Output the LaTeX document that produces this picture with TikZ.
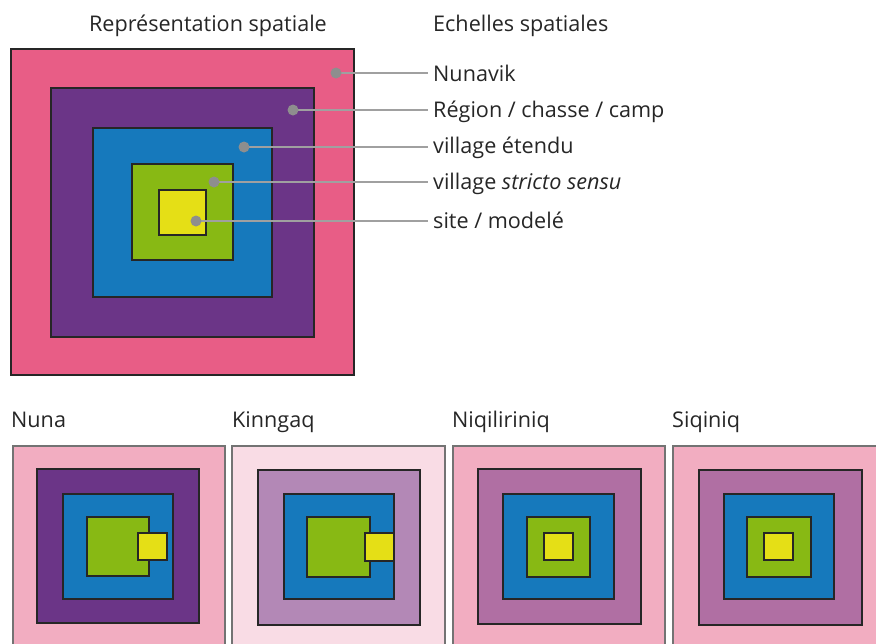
\documentclass[tikz,border=0pt]{standalone}
\usepackage{fontspec}
\setmainfont{Open Sans}
\usetikzlibrary{calc}
\definecolor{cpink}{HTML}{E85D86}
\definecolor{cpurple}{HTML}{6B3587}
\definecolor{cblue}{HTML}{1679BC}
\definecolor{cgreen}{HTML}{88B914}
\definecolor{cyellow}{HTML}{E5DF16}
\definecolor{lpink}{HTML}{F2ADC1}
\definecolor{vlpink}{HTML}{F9DCE5}
\definecolor{lpurple}{HTML}{B388B6}
\definecolor{mauve}{HTML}{B06FA3}
\definecolor{dotgray}{HTML}{8E8E8E}
\definecolor{linegray}{HTML}{A0A0A0}
\tikzset{
  sq/.style={draw=black!85, line width=1.4pt},
  outersq/.style={draw=black!55, line width=1.6pt},
  txt/.style={font=\fontsize{21.6}{24}\selectfont, text=black!85, inner sep=0pt},
  dotmark/.style={circle, fill=dotgray, minimum size=11pt, inner sep=0pt},
  leader/.style={draw=linegray, line width=1.4pt},
}
\begin{document}
\begin{tikzpicture}[x=1pt,y=-1pt]
\useasboundingbox (0,0) rectangle (876,643);
\clip (0,0) rectangle (876,643);
% titles
\node[txt, anchor=base] (t1) at (208,31) {Représentation spatiale};
\node[txt, anchor=base west] (t2) at (433,31) {Echelles spatiales};
% main nested squares
\filldraw[sq, fill=cpink] (11,49) rectangle (354,375);
\filldraw[sq, fill=cpurple] (51,88) rectangle (314,337);
\filldraw[sq, fill=cblue] (93,128) rectangle (272,297);
\filldraw[sq, fill=cgreen] (132,164) rectangle (233,260);
\filldraw[sq, fill=cyellow] (159,190) rectangle (206,235);
% labels
\node[txt, anchor=base west] (l1) at (433,81) {Nunavik};
\node[txt, anchor=base west] (l2) at (433,117) {Région / chasse / camp};
\node[txt, anchor=base west] (l3) at (433,153) {village étendu};
\node[txt, anchor=base west] (l4) at (433,189) {village \textit{stricto sensu}};
\node[txt, anchor=base west] (l5) at (433,228) {site / modelé};
% dots
\coordinate (d1) at (336,73);
\coordinate (d2) at (293,110);
\coordinate (d3) at (244,147);
\coordinate (d4) at (214,182);
\coordinate (d5) at (196,221);
\foreach \i in {1,...,5}{
  \coordinate (e\i) at ($(l\i.west |- d\i)+(-5,0)$);
  \draw[leader] (d\i) -- (e\i);
  \node[dotmark] (m\i) at (d\i) {};
}
% bottom labels
\node[txt, anchor=base west] (b1) at (11,427) {Nuna};
\node[txt, anchor=base west] (b2) at (232,427) {Kinngaq};
\node[txt, anchor=base west] (b3) at (452,427) {Niqiliriniq};
\node[txt, anchor=base west] (b4) at (672,427) {Siqiniq};
% Nuna
\filldraw[outersq, fill=lpink] (13,446) rectangle (225,660);
\filldraw[sq, fill=cpurple] (37,469) rectangle (199,623);
\filldraw[sq, fill=cblue] (63,494) rectangle (173,599);
\filldraw[sq, fill=cgreen] (87,517) rectangle (149,576);
\filldraw[sq, fill=cyellow] (138,533) rectangle (167,560);
% Kinngaq
\filldraw[outersq, fill=vlpink] (232,446) rectangle (445,660);
\filldraw[sq, fill=lpurple] (258,470) rectangle (420,625);
\filldraw[sq, fill=cblue] (284,494) rectangle (394,599);
\filldraw[sq, fill=cgreen] (307,517) rectangle (370,577);
\filldraw[sq, fill=cyellow] (365,533) rectangle (394,561);
% Niqiliriniq
\filldraw[outersq, fill=lpink] (453,446) rectangle (665,660);
\filldraw[sq, fill=mauve] (478,469) rectangle (641,624);
\filldraw[sq, fill=cblue] (503,494) rectangle (614,599);
\filldraw[sq, fill=cgreen] (527,517) rectangle (590,577);
\filldraw[sq, fill=cyellow] (544,533) rectangle (573,560);
% Siqiniq
\filldraw[outersq, fill=lpink] (673,446) rectangle (890,660);
\filldraw[sq, fill=mauve] (699,470) rectangle (862,625);
\filldraw[sq, fill=cblue] (724,494) rectangle (834,599);
\filldraw[sq, fill=cgreen] (747,517) rectangle (811,577);
\filldraw[sq, fill=cyellow] (764,533) rectangle (793,560);
\end{tikzpicture}
\end{document}
